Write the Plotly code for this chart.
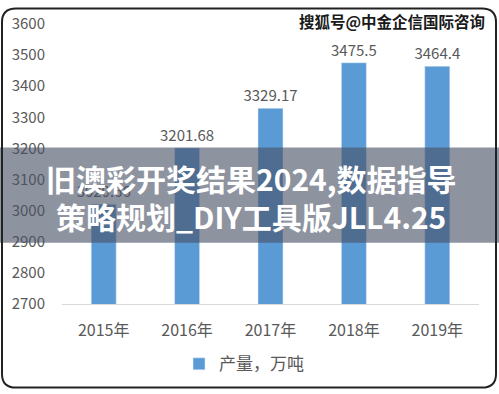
import plotly.graph_objects as go

categories = ["2015年", "2016年", "2017年", "2018年", "2019年"]
values = [3020.66, 3201.68, 3329.17, 3475.5, 3464.4]
value_labels = ["3020.66", "3201.68", "3329.17", "3475.5", "3464.4"]
y_ticks = [2700, 2800, 2900, 3000, 3100, 3200, 3300, 3400, 3500, 3600]
series_name = "产量，万吨"
banner_line1 = "旧澳彩开奖结果2024,数据指导"
banner_line2 = "策略规划_DIY工具版JLL4.25"
watermark = "搜狐号@中金企信国际咨询"

W, H = 499, 394
ML, MR, MT, MB = 62, 20, 18, 88
PW = W - ML - MR
PH = H - MT - MB


def px_x(x):
    return (x - ML) / PW


def px_y(y):
    return (H - MB - y) / PH


FONT = "Noto Sans CJK SC, Microsoft YaHei, sans-serif"
GRAY = "#595959"

fig = go.Figure()
fig.add_trace(go.Bar(
    x=categories, y=values, name=series_name,
    marker=dict(color="#5B9BD5"),
    text=value_labels, textposition="outside", cliponaxis=False,
    constraintext="none",
    textfont=dict(size=15, color=GRAY, family=FONT),
))

# rounded border
x0, x1, y0, y1, r = 2, 496, 2, 392, 14
def P(x, y):
    return f"{px_x(x):.5f},{px_y(y):.5f}"
path = (f"M {P(x0 + r, y0)} L {P(x1 - r, y0)} Q {P(x1, y0)} {P(x1, y0 + r)} "
        f"L {P(x1, y1 - r)} Q {P(x1, y1)} {P(x1 - r, y1)} "
        f"L {P(x0 + r, y1)} Q {P(x0, y1)} {P(x0, y1 - r)} "
        f"L {P(x0, y0 + r)} Q {P(x0, y0)} {P(x0 + r, y0)} Z")

shapes = [
    dict(type="rect", xref="paper", yref="paper",
         x0=px_x(-2), x1=px_x(W + 2), y0=px_y(145), y1=px_y(243),
         fillcolor="rgba(72,81,101,0.62)", line=dict(width=0), layer="above"),
    dict(type="path", xref="paper", yref="paper", path=path,
         line=dict(color="#222222", width=2), layer="above"),
]

annotations = [
    dict(text=f"<b>{banner_line1}</b>", xref="paper", yref="paper",
         x=px_x(251), y=px_y(176), xanchor="center", yanchor="middle",
         showarrow=False, font=dict(size=30, color="white", family=FONT)),
    dict(text=f"<b>{banner_line2}</b>", xref="paper", yref="paper",
         x=px_x(251), y=px_y(215), xanchor="center", yanchor="middle",
         showarrow=False, font=dict(size=30, color="white", family=FONT)),
    dict(text=f"<b>{watermark}</b>", xref="paper", yref="paper",
         x=px_x(487), y=px_y(15), xanchor="right", yanchor="middle",
         showarrow=False, font=dict(size=15.5, color="#1a1a1a", family=FONT)),
]

fig.update_layout(
    width=W, height=H,
    margin=dict(l=ML, r=MR, t=MT, b=MB),
    paper_bgcolor="white", plot_bgcolor="white",
    bargap=0.7,
    font=dict(family=FONT, color=GRAY, size=15),
    showlegend=True,
    legend=dict(orientation="h", x=px_x(244), xanchor="center",
                y=px_y(368), yanchor="middle", itemwidth=30,
                font=dict(size=17, color=GRAY, family=FONT)),
    shapes=shapes,
    annotations=annotations,
    xaxis=dict(showline=True, linecolor="#D9D9D9", linewidth=1,
               showgrid=False, ticks="", ticklabelstandoff=12,
               tickfont=dict(size=16, color=GRAY, family=FONT)),
    yaxis=dict(range=[2700, 3600], tickvals=y_ticks, showgrid=False,
               zeroline=False, showline=False, ticks="", ticklabelstandoff=16,
               tickfont=dict(size=15, color=GRAY, family=FONT)),
)

fig.write_html(
    "out.html",
    config={"displayModeBar": False},
    post_script="document.body.style.margin='0';document.body.style.overflow='hidden';",
)
